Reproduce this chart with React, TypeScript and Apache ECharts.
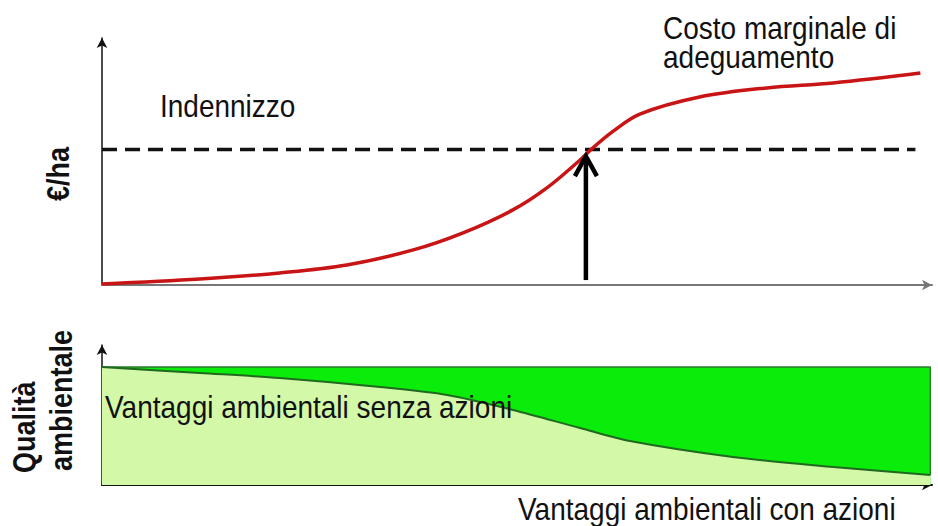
import React, { useEffect, useRef } from "react";
import * as echarts from "echarts";

// Top panel: marginal cost curve (x: 0-100, y: 0-100)
const costX = [0, 11.8, 21.4, 29.5, 37.5, 43.5, 49.5, 53.6, 57.6, 59.0, 61.6, 64.8, 72.0, 80.1, 88.1, 98.6];
const costY = [0.4, 2.4, 4.9, 8.1, 14.2, 21.1, 30.4, 39.3, 50.6, 55.1, 62.3, 69.2, 76.1, 79.8, 81.8, 85.8];
const compensationLevel = 54.9; // Indennizzo
const compensationEndX = 98.0;
const arrowX = 58.3;
const arrowFromY = 2.0;
const arrowToY = 52.2;

// Bottom panel: environmental quality
const qualityTop = 84.3;
const qualityEndX = 99.8;
const benefitX = [0, 11.8, 21.4, 33.5, 41.6, 49.5, 57.6, 63.6, 76.0, 88.1, 99.8];
const benefitY = [84.3, 80.0, 76.4, 70.0, 64.3, 53.6, 40.7, 31.4, 20.0, 12.9, 7.1];

const labels = {
  indennizzo: "Indennizzo",
  costo1: "Costo marginale di",
  costo2: "adeguamento",
  yTop: "€/ha",
  yBottom1: "Qualità",
  yBottom2: "ambientale",
  senza: "Vantaggi ambientali senza azioni",
  con: "Vantaggi ambientali con azioni",
};

const FONT = "'Liberation Sans', Arial, sans-serif";

export default function App() {
  const ref = useRef<HTMLDivElement>(null);
  useEffect(() => {
    if (!ref.current) return;
    const chart = echarts.init(ref.current, null, { renderer: "svg" });
    const hidden = { show: false };
    const txt = (text: string, x: number, y: number, extra: any = {}) => ({
      type: "text",
      x,
      y,
      scaleY: extra.scaleY ?? 1.12,
      rotation: extra.rotation ?? 0,
      z: 100,
      style: {
        text,
        fontSize: extra.fontSize ?? 28,
        fontWeight: extra.fontWeight ?? "normal",
        fontFamily: FONT,
        fill: "#111",
        align: extra.align ?? "left",
        verticalAlign: "middle",
      },
    });
    const option: any = {
      animation: false,
      backgroundColor: "#fff",
      grid: [
        { left: 102, width: 830, top: 38, height: 247 },
        { left: 102, width: 830, top: 345, height: 140 },
      ],
      xAxis: [
        {
          type: "value", gridIndex: 0, min: 0, max: 100,
          axisLabel: hidden, axisTick: hidden, splitLine: hidden,
          axisLine: { show: true, onZero: false, symbol: ["none", "arrow"], symbolSize: [8, 10], lineStyle: { color: "#777", width: 2 } },
        },
        {
          type: "value", gridIndex: 1, min: 0, max: 100,
          axisLabel: hidden, axisTick: hidden, splitLine: hidden,
          axisLine: { show: true, onZero: false, symbol: ["none", "arrow"], symbolSize: [8, 10], lineStyle: { color: "#111", width: 2 } },
        },
      ],
      yAxis: [
        {
          type: "value", gridIndex: 0, min: 0, max: 100,
          axisLabel: hidden, axisTick: hidden, splitLine: hidden,
          axisLine: { show: true, onZero: false, symbol: ["none", "arrow"], symbolSize: [8, 10], lineStyle: { color: "#111", width: 1.5 } },
        },
        {
          type: "value", gridIndex: 1, min: 0, max: 100,
          axisLabel: hidden, axisTick: hidden, splitLine: hidden,
          axisLine: { show: true, onZero: false, symbol: ["none", "arrow"], symbolSize: [8, 10], lineStyle: { color: "#111", width: 1.5 } },
        },
      ],
      series: [
        {
          type: "line", xAxisIndex: 0, yAxisIndex: 0, symbol: "none",
          data: [[0, compensationLevel], [compensationEndX, compensationLevel]],
          lineStyle: { color: "#111", width: 3.5, type: [15, 8] },
          z: 3,
        },
        {
          type: "line", xAxisIndex: 0, yAxisIndex: 0, symbol: "none", smooth: 0.35,
          data: costX.map((x, i) => [x, costY[i]]),
          lineStyle: { color: "#c81414", width: 3.5 },
          z: 4,
        },
        {
          type: "custom", xAxisIndex: 0, yAxisIndex: 0,
          data: [[arrowX, arrowFromY, arrowToY]],
          encode: { x: 0, y: [1, 2] },
          z: 5,
          renderItem: (_p: any, api: any) => {
            const a = api.coord([api.value(0), api.value(1)]);
            const b = api.coord([api.value(0), api.value(2)]);
            return {
              type: "group",
              children: [
                { type: "line", shape: { x1: a[0], y1: a[1], x2: b[0], y2: b[1] + 1 }, style: { stroke: "#000", lineWidth: 4.5 } },
                {
                  type: "polyline",
                  shape: { points: [[b[0] - 11, b[1] + 20], [b[0], b[1]], [b[0] + 11, b[1] + 20]] },
                  style: { stroke: "#000", lineWidth: 4.5, fill: "none", lineJoin: "miter" },
                },
              ],
            };
          },
        },
        {
          type: "line", xAxisIndex: 1, yAxisIndex: 1, symbol: "none",
          data: [[0, qualityTop], [qualityEndX, qualityTop], [qualityEndX, benefitY[benefitY.length - 1]]],
          lineStyle: { color: "#2c7a2c", width: 1.5 },
          areaStyle: { color: "#0aec0a", opacity: 1 },
          z: 2,
        },
        {
          type: "line", xAxisIndex: 1, yAxisIndex: 1, symbol: "none", smooth: 0.3,
          data: benefitX.map((x, i) => [x, benefitY[i]]),
          lineStyle: { color: "#1f6a1f", width: 2 },
          areaStyle: { color: "#d3f8a8", opacity: 1 },
          z: 3,
        },
      ],
      graphic: [
        txt(labels.costo1, 663, 28),
        txt(labels.costo2, 663, 57),
        txt(labels.indennizzo, 160, 106),
        txt(labels.senza, 105, 407),
        txt(labels.con, 518, 509),
        txt(labels.yTop, 58.5, 174, { rotation: Math.PI / 2, align: "center", fontWeight: "bold", fontSize: 27, scaleY: 1.15 }),
        txt(labels.yBottom1, 24, 473, { rotation: Math.PI / 2, align: "left", fontWeight: "bold", fontSize: 27, scaleY: 1.15 }),
        txt(labels.yBottom2, 61, 471, { rotation: Math.PI / 2, align: "left", fontWeight: "bold", fontSize: 27, scaleY: 1.15 }),
      ],
    };
    chart.setOption(option);
    return () => chart.dispose();
  }, []);
  return <div ref={ref} style={{ position: "fixed", left: 0, top: 0, width: 938, height: 526 }} />;
}
